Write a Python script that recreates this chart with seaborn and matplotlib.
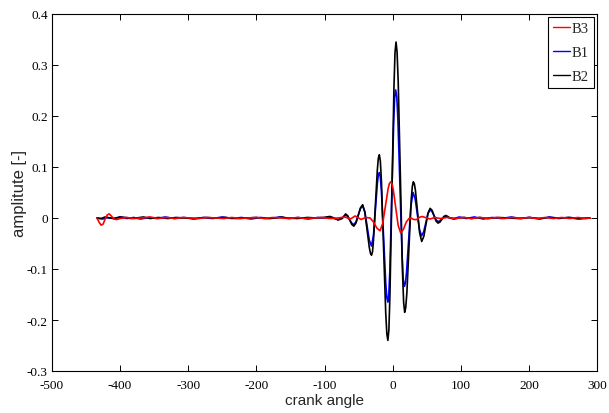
import matplotlib
matplotlib.use("Agg")
import matplotlib.pyplot as plt
import seaborn as sns
import pandas as pd
from matplotlib.lines import Line2D

# ---- data ----
b2_x = [-434, -428, -422, -416, -408, -400, -392, -384, -376, -366, -356, -344, -330, -318,
        -305, -290, -275, -260, -245, -230, -215, -200, -185, -170, -163, -155, -140, -125,
        -112, -102, -92, -86, -80, -74,
        -69, -66, -63, -60, -57, -53.8, -50.5, -47.2, -44, -40.8, -37.5, -34.2, -32.5, -31,
        -29.5, -28.1, -25.3, -22.4, -21, -19.5, -18, -16.4, -13.3, -10.1, -8.5, -7, -5.5, -4,
        -1, 2, 3.5, 5, 6.5, 8.2, 11.4, 14.5, 16.2, 17.7, 19.2, 20.9, 24, 27.2, 28.9, 30.4,
        31.9, 33.5, 36.5, 39.6, 42.7, 45.8, 48.8, 51.9, 55, 57.9, 60.8, 63.7,
        66.6, 69.4, 72.3, 75.2, 78, 81, 84, 90, 97, 105, 115, 128, 140, 155, 170, 185, 200,
        215, 230, 245, 260, 275, 290]
b2_y = [0.0, -0.001, 0.002, 0.0, -0.001, 0.002, 0.001, -0.001, 0.0, 0.002, -0.001, 0.001,
        -0.001, 0.001, 0.0, -0.001, 0.001, 0.0, 0.001, -0.001, 0.0, 0.001, -0.001, 0.0, 0.002,
        0.0, -0.001, 0.001, 0.0, 0.001, 0.003, 0.0, -0.004, -0.001,
        0.008, 0.0045, -0.004, -0.0125, -0.016, -0.0099, 0.005, 0.0199, 0.026, 0.011, -0.0235,
        -0.058, -0.0695, -0.073, -0.066, -0.044, 0.0255, 0.095, 0.117, 0.124, 0.111, 0.071,
        -0.058, -0.187, -0.227, -0.24, -0.2195, -0.154,
        0.0525, 0.259, 0.3245, 0.345, 0.326, 0.267, 0.08, -0.107, -0.166, -0.185, -0.176,
        -0.147, -0.057, 0.034, 0.062, 0.071, 0.067, 0.054,
        0.0125, -0.029, -0.046, -0.036, -0.0135, 0.0095, 0.019, 0.015, 0.0045, -0.006, -0.01,
        -0.008, -0.0025, 0.003, 0.005, 0.003, 0.0, -0.002, 0.0, 0.001, -0.001, 0.001, -0.001,
        0.001, 0.0, -0.001, 0.001, -0.001, 0.001, 0.0, 0.001, -0.001, 0.0]

b1_x = [-434, -426, -418, -410, -400, -390, -380, -370, -358, -346, -334, -320, -306, -292,
        -278, -264, -250, -236, -222, -208, -194, -180, -166, -152, -138, -124, -110, -100,
        -92, -86, -80, -74,
        -69, -66, -63, -60, -57, -53.75, -50.5, -47.25, -44, -40.75, -37.5, -34.25, -31,
        -28.1, -25.25, -22.4, -21, -19.5, -18, -16.4, -13.25, -10.1, -8.5, -7, -5.6, -4.1,
        -1.25, 1.6, 3.0, 4.5, 6.1, 7.7, 10.85, 14, 15.6, 17.2, 18.8, 20.4, 23.6, 26.8, 30,
        33.1, 36.25, 39.4, 42.5, 45.6, 48.75, 51.9, 55,
        57.9, 60.8, 63.7, 66.6, 69.4, 72.3, 75.2, 78, 84, 90, 98, 108, 120, 133, 146, 160, 174,
        188, 202, 216, 230, 244, 258, 272, 288]
b1_y = [0.0, -0.002, 0.001, -0.001, 0.002, -0.001, 0.001, -0.002, 0.001, -0.001, 0.002,
        -0.001, 0.001, -0.002, 0.001, -0.001, 0.002, -0.001, 0.001, -0.002, 0.001, -0.001,
        0.002, -0.001, 0.001, -0.002, 0.001, 0.0, 0.002, -0.001, -0.003, 0.0,
        0.006, 0.003, -0.0035, -0.010, -0.013, -0.0075, 0.0055, 0.0186, 0.024, 0.0124, -0.0155,
        -0.0434, -0.055, -0.034, 0.017, 0.068, 0.084, 0.089, 0.080, 0.052, -0.038, -0.128,
        -0.156, -0.165, -0.150, -0.104, 0.043, 0.19, 0.236, 0.251, 0.237, 0.195, 0.0585,
        -0.078, -0.1205, -0.134, -0.1276, -0.107, -0.042, 0.023, 0.05, 0.0375,
        0.0075, -0.0225, -0.035, -0.027, -0.0095, 0.0085, 0.016, 0.0126, 0.0045, -0.0036,
        -0.007, -0.0055, -0.002, 0.0015, 0.003, 0.0, -0.001, 0.002, -0.001, 0.002, -0.002,
        0.001, -0.001, 0.002, -0.001, 0.001, -0.002, 0.002, -0.001, 0.001, -0.002, 0.0]

b3_x = [-434, -431, -428, -425, -422, -419, -416, -413, -409, -405, -400, -390, -380, -368,
        -356, -344, -332, -320, -308, -296, -284, -272, -260, -248, -236, -224, -212, -200,
        -188, -176, -164, -152, -140, -128, -116, -104, -92, -80, -70, -62, -55, -46, -40, -33,
        -28, -23, -18.5, -14.6, -10.6, -6.7, -4.7, -2.8, -0.9, 0.9, 4.5, 8.2, 11.9, 16, 20, 24,
        27, 31, 35, 39, 43, 48, 55, 62, 70, 80, 92, 104, 116, 128, 140, 152, 164, 176, 188,
        200, 212, 224, 236, 248, 260, 272, 284, 290]
b3_y = [0.0, -0.008, -0.014, -0.012, -0.002, 0.006, 0.008, 0.004, -0.002, -0.003, -0.001,
        0.001, -0.001, 0.0, 0.002, -0.001, 0.001, -0.001, 0.001, 0.0, -0.001, 0.001, 0.0,
        -0.001, 0.001, -0.001, 0.0, 0.001, -0.001, 0.001, 0.0, -0.001, 0.001, -0.001, 0.0,
        0.001, -0.001, 0.0, 0.002, -0.002, 0.004, -0.003, 0.001, 0.0, -0.008, -0.02, -0.025,
        -0.011, 0.023, 0.057, 0.0676, 0.071, 0.067, 0.056, 0.0207, -0.015, -0.0295, -0.022,
        -0.008, -0.001, 0.0, -0.003, -0.003, 0.001, 0.003, 0.001, -0.002, 0.001, -0.001, 0.001,
        -0.001, 0.001, -0.001, 0.001, -0.001, 0.001, -0.001, 0.001, -0.001, 0.001, -0.001,
        0.001, -0.001, 0.001, -0.001, 0.001, -0.001, 0.0]

series_names = ["B3", "B1", "B2"]
series_colors = ["#ff0000", "#0000ff", "#000000"]
x_ticks = [-500, -400, -300, -200, -100, 0, 100, 200, 300]
x_tick_labels = ["-500", "-400", "-300", "-200", "-100", "0", "100", "200", "300"]
y_ticks = [-0.3, -0.2, -0.1, 0.0, 0.1, 0.2, 0.3, 0.4]
y_tick_labels = ["-0.3", "-0.2", "-0.1", "0", "0.1", "0.2", "0.3", "0.4"]

df = pd.concat([
    pd.DataFrame({"x": b3_x, "y": b3_y, "series": "B3"}),
    pd.DataFrame({"x": b1_x, "y": b1_y, "series": "B1"}),
    pd.DataFrame({"x": b2_x, "y": b2_y, "series": "B2"}),
], ignore_index=True)

sns.set_style("white")
plt.rcParams["axes.unicode_minus"] = False

fig = plt.figure(figsize=(6.09, 4.14), dpi=100)
ax = fig.add_axes([52 / 609, 1 - 372 / 414, 545 / 609, 357 / 414])

sns.lineplot(data=df, x="x", y="y", hue="series", hue_order=series_names,
             palette=dict(zip(series_names, series_colors)), estimator=None,
             sort=False, linewidth=1.2, ax=ax, legend=False)
for line, z in zip(ax.lines, [3, 2, 2.5]):
    line.set_zorder(z)

ax.set_xlim(-500, 300)
ax.set_ylim(-0.3, 0.4)
ax.set_xticks(x_ticks)
ax.set_xticklabels(x_tick_labels, fontfamily="Liberation Serif", fontsize=9.5)
ax.set_yticks(y_ticks)
ax.set_yticklabels(y_tick_labels, fontfamily="Liberation Serif", fontsize=9.5)
ax.tick_params(direction="in", length=4, width=0.7, top=True, right=True,
               bottom=True, left=True, colors="black")
ax.tick_params(axis="x", pad=6)
ax.tick_params(axis="y", pad=3)
for sp in ax.spines.values():
    sp.set_color("black")
    sp.set_linewidth(0.8)
ax.grid(False)

ax.set_xlabel("crank angle", fontfamily="Liberation Sans", fontsize=11, labelpad=1)
ax.set_ylabel("amplitute [-]", fontfamily="Liberation Sans", fontsize=12, labelpad=0)

handles = [Line2D([], [], color=c, lw=1.0) for c in series_colors]
leg = ax.legend(handles, series_names, loc="upper right", frameon=True, fancybox=False,
                edgecolor="black", framealpha=1, borderaxespad=0.2, handlelength=1.2,
                handletextpad=0.1, borderpad=0.35, labelspacing=0.72,
                prop={"family": "Liberation Serif", "size": 10.5})
leg.get_frame().set_linewidth(0.8)

fig.savefig("out.png", dpi=100)
